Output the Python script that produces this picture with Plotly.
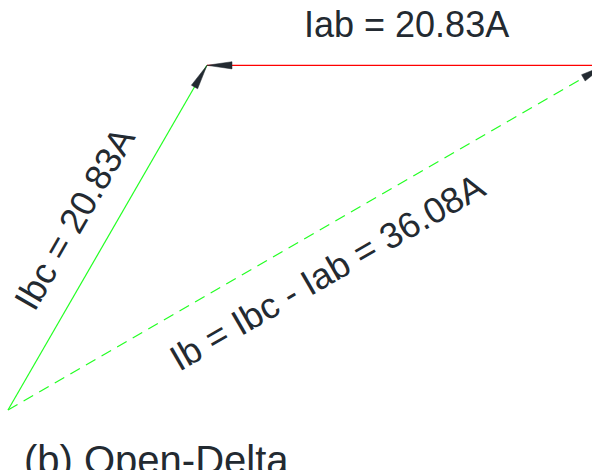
import numpy as np
import plotly.graph_objects as go

# Phasor magnitudes (A) and angles (deg) for the open-delta diagram
names = ["Ibc", "Iab", "Ib"]
magnitudes = [20.83, 20.83, 36.08]
angles_deg = [60.0, 180.0, 30.0]
labels = ["Ibc = 20.83A", "Iab = 20.83A", "Ib = Ibc - Iab = 36.08A"]
caption = "(b) Open-Delta"

W, H = 592, 470
px_per_amp = 398 / 20.83          # drawing scale
origin_px = (8, 410)              # origin of the diagram in pixels (from top-left)

x_range = [-origin_px[0] / px_per_amp, (W - origin_px[0]) / px_per_amp]
y_range = [-(H - origin_px[1]) / px_per_amp, origin_px[1] / px_per_amp]


def phasor(mag, ang):
    a = np.deg2rad(ang)
    return np.array([mag * np.cos(a), mag * np.sin(a)])


ibc = phasor(magnitudes[0], angles_deg[0])
iab = phasor(magnitudes[1], angles_deg[1])
o = np.array([0.0, 0.0])
ib_tip = ibc - iab   # Ib = Ibc - Iab

# segments: (start, end, colour, dash)
segments = [
    (o, ibc, "#22ff22", "solid"),
    (ib_tip, ibc, "#ff0000", "solid"),
    (o, ib_tip, "#22ff22", "11px,7px"),
]

ink = "#232a31"
fig = go.Figure()

for start, end, col, dash in segments:
    fig.add_trace(go.Scatter(
        x=[start[0], end[0]], y=[start[1], end[1]], mode="lines",
        line=dict(color=col, width=1.2, dash=dash), hoverinfo="skip", showlegend=False))

# arrowheads at the tip of each vector
head_len = 25 / px_per_amp
head_half = 3.6 / px_per_amp
for start, end, _, _ in segments:
    d = end - start
    d = d / np.linalg.norm(d)
    n = np.array([-d[1], d[0]])
    base = end - d * head_len
    p1 = base + n * head_half
    p2 = base - n * head_half
    fig.add_trace(go.Scatter(
        x=[end[0], p1[0], p2[0], end[0]], y=[end[1], p1[1], p2[1], end[1]],
        mode="lines", fill="toself", fillcolor=ink, line=dict(color=ink, width=0.5),
        hoverinfo="skip", showlegend=False))

# labels centred on each vector, offset perpendicular to it
font = dict(family="Liberation Sans, Arial, sans-serif", size=36, color=ink)
label_specs = [
    (o, ibc, labels[0], 1),
    (ib_tip, ibc, labels[1], 1),
    (o, ib_tip, labels[2], -1),
]
offsets = [38, 41, 40]
for (start, end, text, side), off in zip(label_specs, offsets):
    mid = (start + end) / 2
    d = end - start
    ang = np.degrees(np.arctan2(d[1], d[0]))
    if ang > 90 or ang < -90:
        ang -= 180 * np.sign(ang)
    u = d / np.linalg.norm(d)
    n = np.array([-u[1], u[0]])
    if n[1] < 0:
        n = -n
    pos = mid + side * n * off / px_per_amp
    fig.add_annotation(x=pos[0], y=pos[1], text=text, showarrow=False,
                       textangle=-ang, font=font, xanchor="center", yanchor="middle")

fig.add_annotation(x=0, y=0, xref="paper", yref="paper", text=caption, showarrow=False,
                   xanchor="left", yanchor="bottom", xshift=22, yshift=-14,
                   font=dict(family="Liberation Sans, Arial, sans-serif", size=40, color=ink))

fig.update_layout(
    width=W, height=H, margin=dict(l=0, r=0, t=0, b=0),
    paper_bgcolor="white", plot_bgcolor="white",
    xaxis=dict(range=x_range, visible=False, fixedrange=True),
    yaxis=dict(range=y_range, visible=False, fixedrange=True),
    showlegend=False,
)

fig.write_html("out.html")
